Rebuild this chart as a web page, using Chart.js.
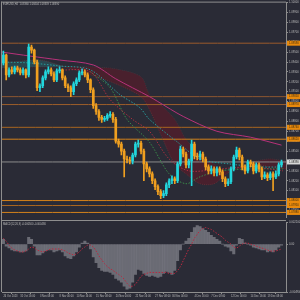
<!DOCTYPE html>
<html><head><meta charset="utf-8">
<script src="https://cdn.jsdelivr.net/npm/chart.js@4.4.1/dist/chart.umd.min.js"></script>
<style>
html,body{margin:0;padding:0;background:#2a2b36;width:300px;height:300px;overflow:hidden}
canvas{position:absolute;left:0;display:block}
#main{top:0}
#macd{top:220px}
</style></head><body>
<canvas id="main" width="300" height="220"></canvas>
<canvas id="macd" width="300" height="80"></canvas>
<script>
// ---------------- DATA ----------------
const symbolTitle = "EURUSD,H4  1.08360 1.08404 1.08339 1.08390";
const macdTitle = "MACD(12,26,9) -0.000500 -0.000480";
const timeLabels = ["26 Oct 2023","31 Oct 16:00","3 Nov 08:00","8 Nov 00:00","10 Nov 16:00","15 Nov 08:00","20 Nov 00:00","22 Nov 16:00","27 Nov 08:00","30 Nov 00:00","4 Dec 16:00","7 Dec 08:00","12 Dec 00:00","14 Dec 16:00","19 Dec 08:00"];
const timeLabelBars = [0,6,13,20,26,33,40,47,54,60,68,74,81,88,94];
const priceTicks = [1.1000,1.0990,1.0980,1.0970,1.0960,1.0950,1.0940,1.0930,1.0920,1.0910,1.0900,1.0890,1.0880,1.0870,1.0860,1.0850,1.0840,1.0830,1.0820,1.0810,1.0800,1.0790];

const openP = [1.0939,1.0947,1.0927,1.0932,1.0930,1.0934,1.0932,1.0929,1.0932,1.0927,
1.0955,1.0952,1.0940,1.0914,1.0916,1.0924,1.0930,1.0932,1.0928,1.0922,
1.0931,1.0932,1.0924,1.0916,1.0914,1.0910,1.0918,1.0922,1.0929,1.0930,
1.0927,1.0922,1.0912,1.0896,1.0890,1.0884,1.0882,1.0883,1.0886,1.0887,
1.0882,1.0860,1.0857,1.0850,1.0842,1.0841,1.0840,1.0846,1.0857,1.0858,
1.0850,1.0837,1.0832,1.0827,1.0820,1.0814,1.0809,1.0805,1.0807,1.0816,
1.0820,1.0822,1.0820,1.0837,1.0852,1.0847,1.0836,1.0840,1.0857,1.0845,
1.0844,1.0847,1.0842,1.0834,1.0830,1.0832,1.0828,1.0832,1.0829,1.0822,
1.0817,1.0819,1.0832,1.0844,1.0851,1.0844,1.0834,1.0830,1.0839,1.0837,
1.0830,1.0836,1.0832,1.0824,1.0826,1.0823,1.0827,1.0824,1.0827,1.0836];
const highP = [1.0951,1.0948,1.0934,1.0935,1.0936,1.0936,1.0934,1.0934,1.0933,1.0958,
1.0957,1.0953,1.0942,1.0918,1.0926,1.0932,1.0935,1.0934,1.0930,1.0933,
1.0935,1.0933,1.0926,1.0918,1.0916,1.0920,1.0924,1.0931,1.0933,1.0932,
1.0929,1.0923,1.0914,1.0898,1.0892,1.0886,1.0885,1.0888,1.0890,1.0889,
1.0884,1.0862,1.0859,1.0852,1.0845,1.0844,1.0848,1.0859,1.0861,1.0860,
1.0852,1.0839,1.0834,1.0829,1.0822,1.0816,1.0811,1.0810,1.0818,1.0822,
1.0825,1.0824,1.0839,1.0855,1.0854,1.0849,1.0842,1.0861,1.0859,1.0848,
1.0850,1.0849,1.0844,1.0836,1.0835,1.0834,1.0834,1.0834,1.0831,1.0824,
1.0822,1.0834,1.0846,1.0854,1.0853,1.0846,1.0836,1.0841,1.0841,1.0839,
1.0838,1.0838,1.0834,1.0829,1.0828,1.0829,1.0829,1.0830,1.0838,1.0841];
const lowP = [1.0937,1.0922,1.0925,1.0928,1.0928,1.0930,1.0927,1.0927,1.0924,1.0925,
1.0949,1.0938,1.0911,1.0910,1.0914,1.0922,1.0928,1.0926,1.0920,1.0920,
1.0929,1.0922,1.0914,1.0910,1.0905,1.0907,1.0916,1.0920,1.0927,1.0925,
1.0919,1.0909,1.0893,1.0887,1.0881,1.0879,1.0880,1.0881,1.0884,1.0879,
1.0858,1.0854,1.0846,1.0824,1.0838,1.0837,1.0837,1.0844,1.0854,1.0847,
1.0820,1.0829,1.0824,1.0817,1.0811,1.0806,1.0802,1.0803,1.0805,1.0813,
1.0817,1.0817,1.0818,1.0835,1.0844,1.0833,1.0833,1.0815,1.0842,1.0841,
1.0841,1.0839,1.0831,1.0827,1.0827,1.0825,1.0825,1.0826,1.0819,1.0814,
1.0815,1.0817,1.0830,1.0842,1.0841,1.0831,1.0827,1.0828,1.0834,1.0827,
1.0828,1.0829,1.0821,1.0822,1.0820,1.0821,1.0810,1.0822,1.0825,1.0834];
const closeP = [1.0947,1.0927,1.0932,1.0930,1.0934,1.0932,1.0929,1.0932,1.0927,1.0955,
1.0952,1.0940,1.0914,1.0916,1.0924,1.0930,1.0932,1.0928,1.0922,1.0931,
1.0932,1.0924,1.0916,1.0914,1.0910,1.0918,1.0922,1.0929,1.0930,1.0927,
1.0922,1.0912,1.0896,1.0890,1.0884,1.0882,1.0883,1.0886,1.0887,1.0882,
1.0860,1.0857,1.0850,1.0842,1.0841,1.0840,1.0846,1.0857,1.0858,1.0850,
1.0837,1.0832,1.0827,1.0820,1.0814,1.0809,1.0805,1.0807,1.0816,1.0820,
1.0822,1.0820,1.0837,1.0852,1.0847,1.0836,1.0840,1.0857,1.0845,1.0844,
1.0847,1.0842,1.0834,1.0830,1.0832,1.0828,1.0832,1.0829,1.0822,1.0817,
1.0819,1.0832,1.0844,1.0851,1.0844,1.0834,1.0830,1.0839,1.0837,1.0830,
1.0836,1.0832,1.0824,1.0826,1.0823,1.0827,1.0824,1.0827,1.0836,1.0839];

// long moving average (magenta)
const maBars = [-0.5,9.5,20,32,40,52,55,64,76,88,99];
const maVals = [1.0950,1.0946,1.0942,1.0937,1.0923,1.0905,1.0900,1.0885,1.0870,1.0864,1.0856];
// ichimoku lines
const tenkanBars = [-0.5,9.5,20,31,41.5,48.5,52,62,70,80.5,91,99.5];
const tenkanVals = [1.0940,1.0939,1.0936,1.0932,1.0907,1.0894,1.0882,1.0859,1.0842,1.0837,1.0834,1.0834];
const kijunBars = [20,31,38,46,52,59,66,77,88,99.5];
const kijunVals = [1.0932,1.0930,1.0902,1.0882,1.0870,1.0842,1.0830,1.0832,1.0834,1.0830];
const chikouBars = [31,38,44,52,59,65,70,77,88,99.5];
const chikouVals = [1.0930,1.0914,1.0882,1.0859,1.0827,1.0817,1.0824,1.0830,1.0832,1.0832];
const cloudBars = [-0.5,3,13,22,31,40,49,52,56,61,65,70,75,79,82,90,95,100.6];
const spanA = [1.0940,1.0940,1.0942,1.0935,1.0927,1.0918,1.0905,1.0892,1.0867,1.0837,1.0827,1.0817,1.0817,1.0826,1.0831,1.0836,1.0834,1.0832];
const spanB = [1.0934,1.0934,1.0935,1.0935,1.0935,1.0933,1.0925,1.0907,1.0897,1.0882,1.0862,1.0847,1.0837,1.0830,1.0832,1.0840,1.0842,1.0840];
// horizontal levels
const levels = [1.0959,1.0905,1.0897,1.0874,1.0862,1.0800,1.0795,1.0788];

// MACD
const macdHist = [0.0005,-0.0002,-0.0004,-0.0006,-0.0007,-0.0007,-0.0008,-0.0008,-0.0007,0.0007,
0.0005,-0.0002,-0.0011,-0.0011,-0.0009,-0.0007,-0.0006,-0.0006,-0.0008,-0.0007,
-0.0006,-0.0008,-0.0012,-0.0014,-0.0015,-0.0012,-0.0008,-0.0003,0.0001,0.0003,
0.0001,-0.0005,-0.0013,-0.0019,-0.0024,-0.0027,-0.0028,-0.0028,-0.0029,-0.0031,
-0.0035,-0.0037,-0.0039,-0.0043,-0.0046,-0.0045,-0.0039,-0.0031,-0.0026,-0.0027,
-0.0030,-0.0032,-0.0033,-0.0032,-0.0033,-0.0034,-0.0033,-0.0030,-0.0028,-0.0029,
-0.0031,-0.0027,-0.0017,-0.0006,0.0000,0.0003,0.0006,0.0012,0.0017,0.0019,
0.0018,0.0016,0.0014,0.0012,0.0009,0.0007,0.0005,0.0003,0.0000,-0.0002,
-0.0003,-0.0007,-0.0010,-0.0001,0.0006,0.0005,0.0001,0.0000,-0.0001,-0.0003,
-0.0004,-0.0005,-0.0006,-0.0006,-0.0008,-0.0007,-0.0008,-0.0006,-0.0003,-0.0001];
const macdSignal = [0.0006,0.0003,-0.0001,-0.0004,-0.0006,-0.0007,-0.0008,-0.0008,-0.0007,-0.0005,
-0.0003,-0.0004,-0.0006,-0.0007,-0.0008,-0.0007,-0.0006,-0.0005,-0.0005,-0.0005,
-0.0005,-0.0006,-0.0007,-0.0009,-0.0010,-0.0011,-0.0010,-0.0008,-0.0005,-0.0003,
-0.0001,-0.0001,-0.0003,-0.0007,-0.0012,-0.0016,-0.0020,-0.0023,-0.0025,-0.0027,
-0.0029,-0.0031,-0.0033,-0.0036,-0.0040,-0.0043,-0.0043,-0.0041,-0.0037,-0.0033,
-0.0031,-0.0030,-0.0029,-0.0029,-0.0029,-0.0029,-0.0029,-0.0029,-0.0029,-0.0030,
-0.0030,-0.0030,-0.0027,-0.0023,-0.0017,-0.0011,-0.0005,0.0000,0.0006,0.0010,
0.0014,0.0016,0.0017,0.0016,0.0015,0.0013,0.0011,0.0009,0.0007,0.0004,
0.0002,0.0000,-0.0003,-0.0004,-0.0002,0.0000,0.0001,0.0001,0.0000,-0.0001,
-0.0002,-0.0003,-0.0004,-0.0005,-0.0006,-0.0007,-0.0007,-0.0007,-0.0006,-0.0005];
const macdMax = 0.0022, macdMin = -0.0049;
const priceMin = 1.0783, priceMax = 1.1000;

// ---------------- STYLE / BUILD ----------------
Chart.defaults.font.family = '"Liberation Sans", Arial, sans-serif';
const BULL = '#22d6dc', BEAR = '#f0a020';
const TXT = '#bdbdbd', AXIS = '#8e8e8e';
const levelColors = ['#9a5a2c','#8c5630','#9c5e2a','#a8651f','#d4821a','#d4821a','#a8651f','#d4821a'];
const XMIN = -0.5, XMAX = 100.6;
const idx = closeP.map((_, i) => i);
const candleColors = idx.map(i => closeP[i] >= openP[i] ? BULL : BEAR);
const pts = (xs, ys) => xs.map((x, k) => ({x, y: ys[k]}));

const lineDs = (data, color, dash, order, width) => ({
  type: 'line', data, borderColor: color, borderWidth: width || 1, borderDash: dash || [],
  pointRadius: 0, fill: false, tension: 0.3, order
});

const levelSets = levels.map((v, k) => lineDs([{x: XMIN, y: v}, {x: XMAX, y: v}], levelColors[k], [], 6, 1));
const lastClose = closeP[closeP.length - 1];

const mainDecor = {
  id: 'mainDecor',
  afterDraw(chart) {
    const {ctx, chartArea: a, scales: {y}} = chart;
    ctx.save();
    ctx.strokeStyle = AXIS; ctx.lineWidth = 1;
    ctx.beginPath();
    ctx.moveTo(1, a.top - 0.5); ctx.lineTo(a.right, a.top - 0.5);
    ctx.moveTo(1.5, a.top - 1); ctx.lineTo(1.5, chart.height);
    ctx.stroke();
    ctx.font = '2.7px "Liberation Sans"'; ctx.textBaseline = 'middle'; ctx.textAlign = 'left';
    levels.forEach(v => {
      const py = y.getPixelForValue(v);
      ctx.fillStyle = '#e8890c'; ctx.fillRect(a.right + 1, py - 2.5, chart.width - a.right - 1, 5);
      ctx.fillStyle = '#3a2a10'; ctx.fillText(v.toFixed(5), a.right + 3, py);
    });
    const pp = y.getPixelForValue(lastClose);
    ctx.fillStyle = '#d8d8d8'; ctx.fillRect(a.right + 1, pp - 2.5, chart.width - a.right - 1, 5);
    ctx.fillStyle = '#222'; ctx.fillText(lastClose.toFixed(5), a.right + 3, pp);
    ctx.fillStyle = TXT; ctx.font = '2.6px "Liberation Sans"';
    ctx.fillText(symbolTitle, 3, 4);
    ctx.restore();
  }
};

new Chart(document.getElementById('main'), {
  type: 'bar',
  data: {
    datasets: [
      {type: 'bar', data: idx.map(i => ({x: i, y: [openP[i], closeP[i]]})), backgroundColor: candleColors,
        barThickness: 2, grouped: false, minBarLength: 1, order: 1},
      {type: 'bar', data: idx.map(i => ({x: i, y: [lowP[i], highP[i]]})), backgroundColor: candleColors,
        barThickness: 1, grouped: false, order: 2},
      lineDs(pts(maBars, maVals), '#b8327a', [], 4, 1),
      lineDs(pts(tenkanBars, tenkanVals), '#2a9a9a', [1.5, 1.5], 4, 1),
      lineDs(pts(kijunBars, kijunVals), '#a83040', [1.5, 1.5], 4, 1),
      lineDs(pts(chikouBars, chikouVals), '#3a8a4a', [1.5, 1.5], 4, 1),
      Object.assign(lineDs(pts(cloudBars, spanA), 'rgba(150,60,60,0.6)', [1, 1], 9, 0.7),
        {fill: {target: '+1', above: 'rgba(40,115,120,0.4)', below: 'rgba(110,20,35,0.45)'}, tension: 0.3}),
      lineDs(pts(cloudBars, spanB), 'rgba(130,45,50,0.55)', [1, 1], 9, 0.7),
      ...levelSets,
      lineDs([{x: XMIN, y: lastClose}, {x: XMAX, y: lastClose}], '#8c8c8c', [], 6, 1)
    ]
  },
  options: {
    responsive: false, maintainAspectRatio: false, animation: false, devicePixelRatio: 1,
    layout: {padding: {left: 2, top: 2, right: 0, bottom: 1}},
    plugins: {legend: {display: false}, tooltip: {enabled: false}},
    scales: {
      x: {type: 'linear', min: XMIN, max: XMAX, offset: false, display: false},
      y: {type: 'linear', position: 'right', min: priceMin, max: priceMax, beginAtZero: false,
        afterFit(s) { s.width = 14; },
        afterBuildTicks(s) { s.ticks = priceTicks.map(v => ({value: v})); },
        ticks: {autoSkip: false, padding: 1, color: TXT, font: {size: 2.7}, callback: v => v.toFixed(5)},
        grid: {drawOnChartArea: false, drawTicks: true, tickLength: 2, color: AXIS},
        border: {display: true, color: AXIS}}
    }
  },
  plugins: [mainDecor]
});

const macdDecor = {
  id: 'macdDecor',
  afterDraw(chart) {
    const {ctx, chartArea: a} = chart;
    ctx.save();
    ctx.strokeStyle = AXIS; ctx.lineWidth = 1;
    ctx.beginPath();
    ctx.moveTo(1, 0.5); ctx.lineTo(a.right, 0.5);
    ctx.moveTo(1.5, 0); ctx.lineTo(1.5, a.bottom);
    ctx.stroke();
    ctx.fillStyle = TXT; ctx.font = '2.6px "Liberation Sans"'; ctx.textBaseline = 'middle'; ctx.textAlign = 'left';
    ctx.fillText(macdTitle, 3, 4);
    ctx.restore();
  }
};

new Chart(document.getElementById('macd'), {
  type: 'bar',
  data: {
    datasets: [
      {type: 'line', data: idx.map(i => ({x: i, y: macdSignal[i]})), borderColor: '#b82a40', borderWidth: 1,
        borderDash: [1.5, 1.5], pointRadius: 0, tension: 0.3, order: 1},
      {type: 'bar', data: idx.map(i => ({x: i, y: macdHist[i]})), backgroundColor: 'rgba(150,150,158,0.6)',
        barThickness: 2.4, grouped: false, order: 2}
    ]
  },
  options: {
    responsive: false, maintainAspectRatio: false, animation: false, devicePixelRatio: 1,
    layout: {padding: {left: 2, top: 1, right: 0, bottom: 0}},
    plugins: {legend: {display: false}, tooltip: {enabled: false}},
    scales: {
      x: {type: 'linear', min: XMIN, max: XMAX, offset: false,
        afterFit(s) { s.height = 8; },
        afterBuildTicks(s) { s.ticks = timeLabelBars.map(v => ({value: v})); },
        ticks: {autoSkip: false, maxRotation: 0, align: 'start', padding: 1, color: TXT, font: {size: 2.6},
          callback: (v, i) => timeLabels[i]},
        grid: {drawOnChartArea: false, drawTicks: true, tickLength: 2, color: AXIS},
        border: {display: true, color: AXIS}},
      y: {type: 'linear', position: 'right', min: macdMin, max: macdMax, beginAtZero: false,
        afterFit(s) { s.width = 14; },
        afterBuildTicks(s) { s.ticks = [{value: macdMax}, {value: 0}, {value: macdMin}]; },
        ticks: {autoSkip: false, padding: 1, color: TXT, font: {size: 2.7},
          callback: v => v === 0 ? '0.00' : v.toFixed(6)},
        grid: {drawOnChartArea: false, drawTicks: true, tickLength: 2, color: AXIS},
        border: {display: true, color: AXIS}}
    }
  },
  plugins: [macdDecor]
});
</script>
</body></html>
